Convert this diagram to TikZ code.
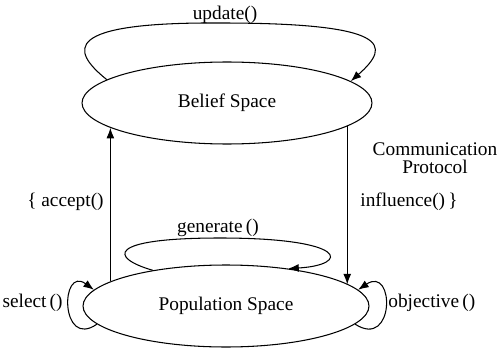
\documentclass[tikz,border=0pt]{standalone}
\usepackage{fontspec}
\setmainfont{Liberation Serif}
\usetikzlibrary{arrows.meta, positioning, shapes.geometric}

\begin{document}
\begin{tikzpicture}[x=0.02cm, y=-0.02cm, line width=0.6pt,
    font=\fontsize{11}{13}\selectfont,
    space/.style={ellipse, draw, minimum width=5.8cm, minimum height=1.64cm, inner sep=0pt},
    arr/.style={-{Latex[length=6pt,width=4.5pt]}}]
    \useasboundingbox (0,0) rectangle (503,348);

    % Spaces
    \node[space] (belief) at (227,103) {Belief Space};
    \node[space, minimum width=5.72cm] (pop) at (226,306) {Population Space};

    % Self loops
    \draw[arr] (belief.169) .. controls (70,50) and (62,22) .. (220,23)
        .. controls (390,23) and (392,45) .. (belief.10);
    \draw[arr] (pop.154) .. controls (110,258) and (105,238) .. (220,238)
        .. controls (350,238) and (350,265) .. (pop.31);
    \draw[arr] (pop.-172) .. controls (60,350) and (60,265) .. (pop.173);
    \draw[arr] (pop.-8) .. controls (395,350) and (395,265) .. (pop.7);

    % Communication protocol
    \draw[arr] (pop.168) -- (pop.168 |- belief.192);
    \draw[arr] (belief.-11) -- (belief.-11 |- pop.10);

    % Labels
    \node (upd) at (225,15) {update()};
    \node (gen) at (218,228) {generate\,()};
    \node[anchor=east] (sel) at (69,303) {select\,()};
    \node[anchor=west] (obj) at (382,303) {objective\,()};
    \node[anchor=east] (acc) at (110,202) {\{ accept()};
    \node[anchor=west] (inf) at (354,202) {influence()\,\}};
    \node[align=center] (comm) at (435,158) {Communication\\[-2.5pt]Protocol};
\end{tikzpicture}
\end{document}
